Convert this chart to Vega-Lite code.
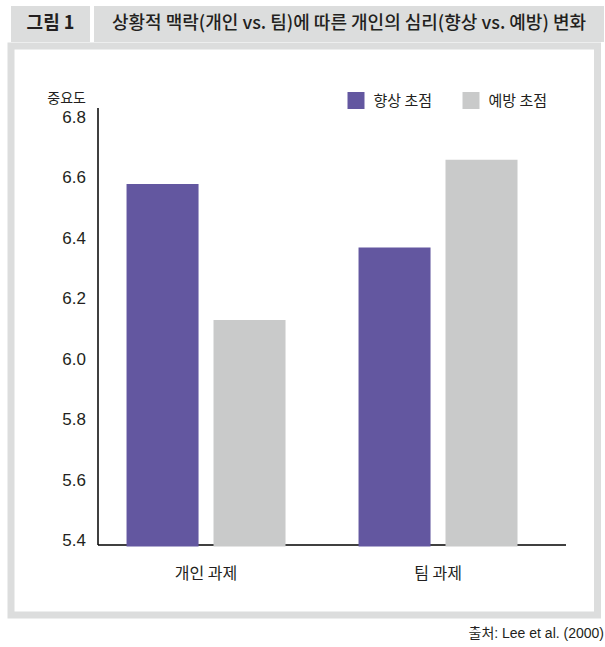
{
  "$schema": "https://vega.github.io/schema/vega-lite/v6.json",
  "background": "white",
  "padding": {"left": 7, "top": 6, "right": 4, "bottom": 5},
  "config": {
    "view": {"stroke": null},
    "font": "Liberation Sans, Noto Sans CJK KR",
    "text": {"font": "Noto Sans CJK KR"}
  },
  "title": {
    "text": "출처: Lee et al. (2000)",
    "orient": "bottom",
    "anchor": "end",
    "frame": "bounds",
    "font": "Liberation Sans, Noto Sans CJK KR",
    "fontSize": 14,
    "fontWeight": "normal",
    "color": "#231f20",
    "offset": 8
  },
  "spacing": 0,
  "vconcat": [
    {
      "spacing": 4,
      "hconcat": [
        {
          "width": 79,
          "height": 36,
          "view": {"fill": "#dcdddd", "stroke": null},
          "data": {"values": [{"label": "그림 1"}]},
          "mark": {"type": "text", "fontSize": 18, "fontWeight": "bold", "color": "#231f20", "baseline": "middle"},
          "encoding": {"text": {"field": "label"}}
        },
        {
          "width": 510,
          "height": 36,
          "view": {"fill": "#dcdddd", "stroke": null},
          "data": {"values": [{"label": "상황적 맥락(개인 vs. 팀)에 따른 개인의 심리(향상 vs. 예방) 변화"}]},
          "mark": {"type": "text", "fontSize": 18, "fontWeight": 500, "color": "#231f20", "baseline": "middle"},
          "encoding": {"text": {"field": "label"}}
        }
      ]
    },
    {
      "width": 586.5,
      "height": 569,
      "view": {"fill": "white", "stroke": "#dcdddd", "strokeWidth": 7},
      "data": {
        "values": [
          {"task": "개인 과제", "focus": "향상 초점", "value": 6.58},
          {"task": "개인 과제", "focus": "예방 초점", "value": 6.13},
          {"task": "팀 과제", "focus": "향상 초점", "value": 6.37},
          {"task": "팀 과제", "focus": "예방 초점", "value": 6.66}
        ]
      },
      "mark": {"type": "bar"},
      "encoding": {
        "x": {
          "field": "task",
          "type": "nominal",
          "sort": ["개인 과제", "팀 과제"],
          "scale": {"range": [86.5, 554.5], "paddingInner": 0.3147, "paddingOuter": 0.166, "align": 0.377},
          "axis": {
            "title": null,
            "offset": -70.5,
            "ticks": false,
            "labelAngle": 0,
            "labelFont": "Noto Sans CJK KR",
            "labelFontSize": 16,
            "labelColor": "#231f20",
            "labelBaseline": "middle",
            "labelPadding": 29,
            "domainColor": "black",
            "domainWidth": 1.5
          }
        },
        "xOffset": {
          "field": "focus",
          "sort": ["향상 초점", "예방 초점"],
          "scale": {"paddingInner": 0.172, "paddingOuter": 0}
        },
        "y": {
          "field": "value",
          "type": "quantitative",
          "scale": {"domain": [5.3866, 6.833], "range": [498.5, 61.5], "zero": false, "nice": false},
          "axis": {
            "title": "중요도",
            "titleFont": "Noto Sans CJK KR",
            "titleFontSize": 14,
            "titleFontWeight": "normal",
            "titleColor": "#231f20",
            "titleAngle": 0,
            "titleAlign": "right",
            "titleBaseline": "middle",
            "titleX": -12,
            "titleY": 52,
            "offset": -86.5,
            "grid": false,
            "ticks": false,
            "values": [5.4, 5.6, 5.8, 6.0, 6.2, 6.4, 6.6, 6.8],
            "format": ".1f",
            "labelFontSize": 17,
            "labelColor": "#231f20",
            "labelPadding": 12,
            "domainColor": "black",
            "domainWidth": 1.5
          }
        },
        "y2": {"datum": 5.38},
        "color": {
          "field": "focus",
          "type": "nominal",
          "sort": ["향상 초점", "예방 초점"],
          "scale": {"domain": ["향상 초점", "예방 초점"], "range": ["#6357a0", "#c9caca"]},
          "legend": {
            "title": null,
            "orient": "none",
            "legendX": 336.5,
            "legendY": 86,
            "direction": "horizontal",
            "symbolType": "square",
            "symbolSize": 289,
            "symbolStrokeWidth": 0,
            "symbolOpacity": 1,
            "labelFont": "Noto Sans CJK KR",
            "labelFontSize": 15,
            "labelColor": "#231f20",
            "labelOffset": 9,
            "columnPadding": 30
          }
        }
      }
    }
  ]
}
